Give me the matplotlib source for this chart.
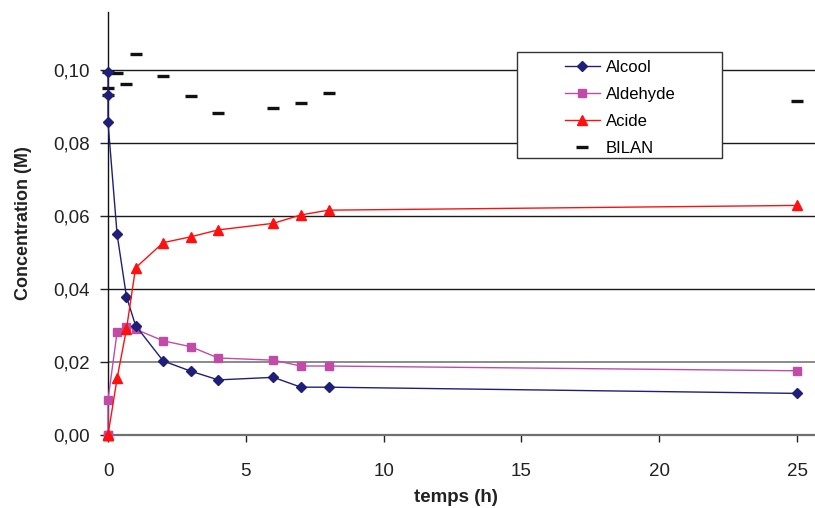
import numpy as np
import matplotlib
matplotlib.use("Agg")
import matplotlib.pyplot as plt
from matplotlib.patches import Rectangle
from matplotlib.ticker import FuncFormatter

plt.rcParams["font.family"] = ["Liberation Sans", "DejaVu Sans"]

# time points (h) -- the first three are all at ~0
t = [0, 0, 0, 0.33, 0.67, 1, 2, 3, 4, 6, 7, 8, 25]
alcool   = [0.0994, 0.0931, 0.0857, 0.0550, 0.0379, 0.0300, 0.0203, 0.0175,
            0.0151, 0.0158, 0.0131, 0.0131, 0.0114]
aldehyde = [0.0, 0.0, 0.0096, 0.0282, 0.0297, 0.0290, 0.0258, 0.0242,
            0.0211, 0.0205, 0.0189, 0.0189, 0.0176]
acide    = [0.0, 0.0, 0.0, 0.0155, 0.0290, 0.0458, 0.0527, 0.0543,
            0.0562, 0.0580, 0.0603, 0.0616, 0.0629]
bilan    = [0.0994, 0.0931, 0.0951, 0.0991, 0.0962, 0.1043, 0.0984, 0.0930,
            0.0881, 0.0897, 0.0910, 0.0936, 0.0916]

yticks = [0.0, 0.02, 0.04, 0.06, 0.08, 0.10]
xticks = [0, 5, 10, 15, 20, 25]

W, H = 815, 508
fig = plt.figure(figsize=(W / 100, H / 100), dpi=100)
ax = fig.add_axes([108 / W, 1 - 435 / H, 707 / W, 423 / H])

for y in yticks[1:]:
    ax.axhline(y, color="#8a8a8a" if y == 0.02 else "#1a1a1a",
               lw=1.4 if y == 0.02 else 1.0, zorder=1)

ax.plot(t, alcool, color="#1f1f78", lw=1.0, marker="D", ms=5.5,
        label="Alcool", clip_on=False, zorder=5)
ax.plot(t, aldehyde, color="#c04ca8", lw=1.0, marker="s", ms=6,
        label="Aldehyde", clip_on=False, zorder=4)
ax.plot(t, acide, color="#ff1010", lw=1.0, marker="^", ms=7.5,
        label="Acide", clip_on=False, zorder=6)
ax.plot(t, bilan, color="#111111", lw=0, marker="_", ms=9, mew=2.4,
        label="BILAN", clip_on=False, zorder=3)

ax.set_xlim(0, 25.65)
ax.set_ylim(0, 0.1159)
ax.set_xticks(xticks)
ax.set_yticks(yticks)
ax.yaxis.set_major_formatter(FuncFormatter(lambda v, p: f"{v:.2f}".replace(".", ",")))
ax.tick_params(axis="y", direction="out", length=6, width=1, pad=7,
               labelsize=13.5, colors="#222222")
ax.tick_params(axis="x", direction="out", length=5, width=1, pad=15,
               labelsize=13.5, colors="#222222")

for s in ("top", "right"):
    ax.spines[s].set_visible(False)
ax.spines["left"].set_color("#111111")
ax.spines["left"].set_linewidth(1.0)
ax.spines["bottom"].set_color("#707070")
ax.spines["bottom"].set_linewidth(1.6)

ax.set_ylabel("Concentration (M)", fontsize=13, fontweight="bold", color="#222222")
ax.yaxis.set_label_coords(-0.108, 0.5)
ax.set_xlabel("temps (h)", fontsize=13.5, fontweight="bold", color="#222222")
ax.xaxis.set_label_coords(0.492, -0.128)

# legend box (Excel style, wide padding)
box = Rectangle((517 / W, 1 - 158 / H), 205 / W, 106 / H, transform=fig.transFigure,
                facecolor="white", edgecolor="#333333", lw=1.0, zorder=7,
                clip_on=False)
ax.add_patch(box)
leg = ax.legend(loc="upper left", bbox_to_anchor=(558 / W, 1 - 53 / H),
                bbox_transform=fig.transFigure, frameon=False, fontsize=12,
                handlelength=2.1, handletextpad=0.35, labelspacing=0.72,
                borderaxespad=0)
leg.set_zorder(8)

fig.savefig("out.png", dpi=100)
